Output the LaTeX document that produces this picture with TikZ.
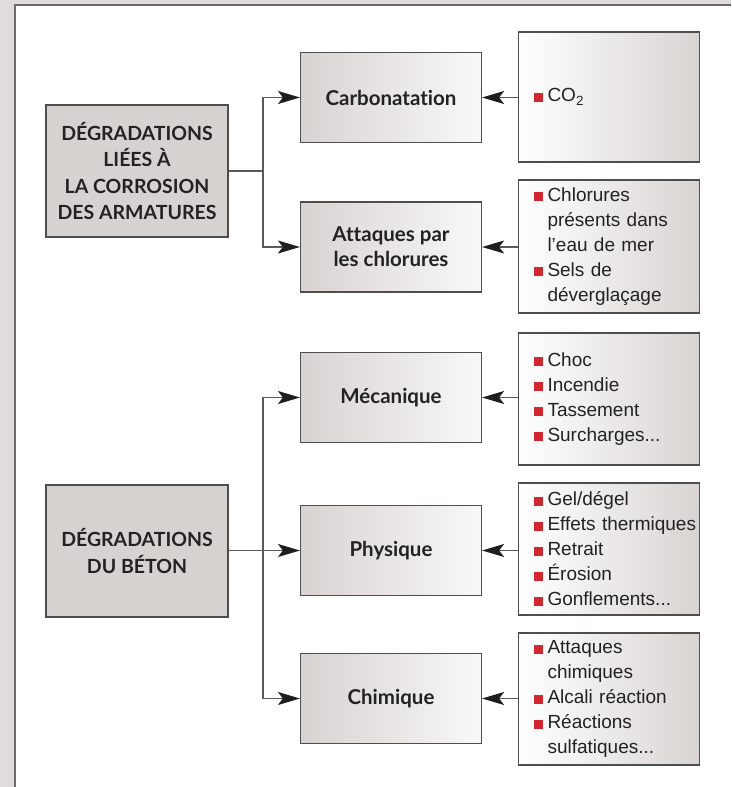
\documentclass[tikz,border=0pt]{standalone}
\usepackage{fontspec}
\setmainfont{Liberation Sans}
\newfontfamily\headfont[Ligatures=NoCommon]{Lato}
\usetikzlibrary{positioning, arrows.meta}

\definecolor{bggray}{HTML}{E0DCDB}
\definecolor{framegray}{HTML}{6B6B6B}
\definecolor{boxgray}{HTML}{D6D2D0}
\definecolor{edgegray}{HTML}{4E4E4E}
\definecolor{linegray}{HTML}{5A5A5A}
\definecolor{arrowdark}{HTML}{1E1E1E}
\definecolor{textdark}{HTML}{222222}
\definecolor{bulletred}{HTML}{D22630}
\definecolor{midleft}{HTML}{D7D3D1}
\definecolor{midright}{HTML}{F9F8F8}
\definecolor{listright}{HTML}{D8D4D2}

\newcommand{\bul}{\makebox[14pt][l]{\textcolor{bulletred}{\rule{9pt}{9pt}}}}
\newcommand{\itm}[1]{\mbox{\bul#1}}
\newcommand{\cnt}[1]{\mbox{\hspace*{14pt}#1}}

\tikzset{
    mainbox/.style={draw=edgegray, line width=1.2pt, fill=boxgray, text=textdark,
        minimum width=182pt, minimum height=132pt, inner sep=0pt, align=center,
        font=\headfont\bfseries\fontsize{19.5}{26.5}\selectfont},
    typebox/.style={draw=edgegray, line width=1.2pt, left color=midleft, right color=midright,
        text=textdark, minimum width=181pt, minimum height=90pt, inner sep=0pt, align=center,
        font=\headfont\bfseries\fontsize{20.5}{25}\selectfont},
    listbox/.style={draw=edgegray, line width=1.2pt, left color=white, right color=listright,
        text=textdark, text width=151pt, inner xsep=15pt, inner ysep=0pt, align=left,
        font=\fontsize{19}{25}\selectfont},
    conn/.style={draw=linegray, line width=1.2pt},
    arr/.style={conn, -{Stealth[length=22pt, width=13pt, inset=5pt, color=arrowdark]}}
}

\begin{document}
\begin{tikzpicture}[x=1pt, y=-1pt]
    \useasboundingbox (0,0) rectangle (731,787);

    % Background and frame
    \fill[bggray] (0,0) rectangle (731,787);
    \fill[white] (15,5) rectangle (731,787);
    \draw[framegray, line width=1.6pt] (14.8,787) -- (14.8,4.8) -- (731,4.8);

    % Main categories
    \node[mainbox] (degcorr) at (137,171) {DÉGRADATIONS\\LIÉES À\\LA CORROSION\\DES ARMATURES};
    \node[mainbox] (degbeton) at (137,551) {DÉGRADATIONS\\DU BÉTON};

    % Types of degradation
    \node[typebox] (carbo) at (391,97.5) {Carbonatation};
    \node[typebox] (chlor) at (391,247) {Attaques par\\les chlorures};
    \node[typebox] (meca) at (391,397.5) {Mécanique};
    \node[typebox] (phys) at (391,550.5) {Physique};
    \node[typebox] (chim) at (391,698.5) {Chimique};

    % Causes
    \node[listbox, minimum height=130pt] (co2) at (609,97) {\itm{CO\textsubscript{2}}};
    \node[listbox, minimum height=133pt] (selchl) at (609,246.5)
        {\itm{Chlorures}\\\cnt{présents dans}\\\cnt{l’eau de mer}\\\itm{Sels de}\\\cnt{déverglaçage}};
    \node[listbox, minimum height=132pt] (lmeca) at (609,399)
        {\itm{Choc}\\\itm{Incendie}\\\itm{Tassement}\\\itm{Surcharges...}};
    \node[listbox, minimum height=132pt] (lphys) at (609,549)
        {\itm{Gel/dégel}\\\itm{Effets thermiques}\\\itm{Retrait}\\\itm{Érosion}\\\itm{Gonflements...}};
    \node[listbox, minimum height=132pt] (lchim) at (609,699)
        {\itm{Attaques}\\\cnt{chimiques}\\\itm{Alcali réaction}\\\itm{Réactions}\\\cnt{sulfatiques...}};

    % Connectors from the main categories
    \coordinate (trunka) at (263,171);
    \coordinate (trunkb) at (263,550.5);
    \draw[conn] (degcorr.east) -- (trunka);
    \draw[arr] (trunka) |- (carbo.west);
    \draw[arr] (trunka) |- (chlor.west);
    \draw[arr] (degbeton.east |- phys.west) -- (phys.west);
    \draw[arr] (trunkb) |- (meca.west);
    \draw[arr] (trunkb) |- (chim.west);

    % Connectors from the causes
    \draw[arr] (co2.west |- carbo.east) -- (carbo.east);
    \draw[arr] (selchl.west |- chlor.east) -- (chlor.east);
    \draw[arr] (lmeca.west |- meca.east) -- (meca.east);
    \draw[arr] (lphys.west |- phys.east) -- (phys.east);
    \draw[arr] (lchim.west |- chim.east) -- (chim.east);
\end{tikzpicture}
\end{document}
